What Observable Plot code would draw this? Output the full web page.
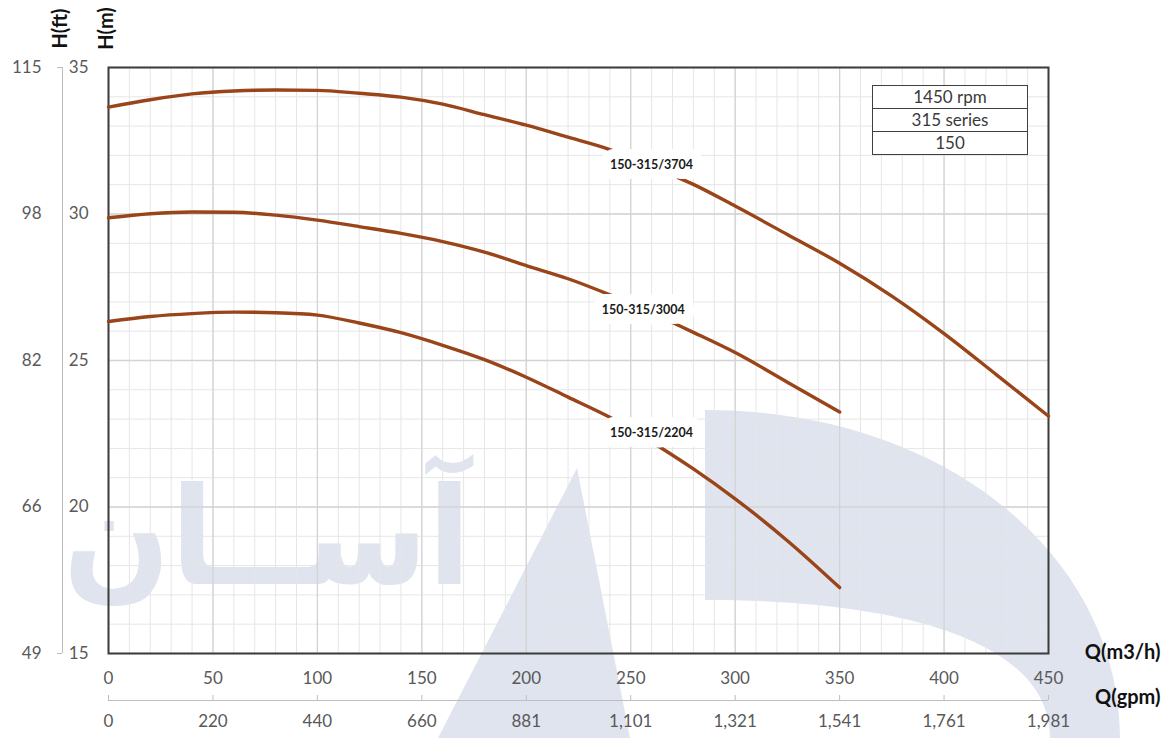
<!DOCTYPE html>
<html>
<head>
<meta charset="utf-8">
<script src="https://cdn.jsdelivr.net/npm/d3@7"></script>
<script src="https://cdn.jsdelivr.net/npm/@observablehq/plot@0.6"></script>
<style>
  html, body { margin: 0; padding: 0; background: #fff; }
  #wrap { position: relative; width: 1163px; height: 738px; overflow: hidden; background: #fff; }
  #wm { position: absolute; left: 0; top: 0; }
  #wrap > svg.chart { position: absolute; left: 0; top: 0; }
  #legend { position: absolute; left: 872px; top: 85px; width: 156px; border-collapse: collapse;
    font-family: Lato, "Open Sans", sans-serif; font-size: 17px; color: #3a3a3a; background: #fff; }
  #legend td { border: 1.5px solid #404040; text-align: center; height: 22px; padding: 0; line-height: 22px; }
</style>
</head>
<body>
<div id="wrap">
  <svg id="wm" width="1163" height="738">
    <g fill="#dfe4ee">
      <text x="267" y="584" text-anchor="middle" direction="rtl" textLength="408" lengthAdjust="spacingAndGlyphs"
        font-family="DejaVu Sans" font-weight="bold" font-size="136">آســان</text>
      <path d="M577,468 L438,738 L630,738 Z"/>
      <path d="M705,410 C950,410 1120,560 1120,738 L1050,738 C1050,640 900,600 705,600 Z"/>
    </g>
  </svg>
</div>
<script>
// ---- data ----
const qTicks = [0, 50, 100, 150, 200, 250, 300, 350, 400, 450];
const gpmLabels = ["0", "220", "440", "660", "881", "1,101", "1,321", "1,541", "1,761", "1,981"];
const mTicks = [15, 20, 25, 30, 35];
const ftLabels = ["49", "66", "82", "98", "115"];

const models = ["150-315/3704", "150-315/3004", "150-315/2204"];

const q3704 = [0, 20, 40, 60, 80, 100, 120, 140, 160, 180, 200, 220, 240, 260, 280, 300, 325, 350, 375, 400, 425, 450];
const h3704 = [33.65, 33.90, 34.10, 34.20, 34.23, 34.22, 34.12, 33.99, 33.75, 33.39, 33.03, 32.62, 32.20, 31.62, 31.01, 30.27, 29.30, 28.32, 27.20, 25.92, 24.52, 23.10];

const q3004 = [0, 20, 40, 60, 80, 100, 120, 140, 160, 180, 200, 220, 240, 260, 280, 300, 325, 350];
const h3004 = [29.87, 30.01, 30.07, 30.06, 29.96, 29.79, 29.57, 29.34, 29.06, 28.70, 28.24, 27.79, 27.24, 26.62, 25.96, 25.27, 24.26, 23.24];

const q2204 = [0, 20, 40, 60, 80, 100, 120, 140, 160, 180, 200, 220, 240, 260, 280, 300, 325, 350];
const h2204 = [26.33, 26.50, 26.60, 26.65, 26.63, 26.55, 26.28, 25.95, 25.52, 25.03, 24.43, 23.75, 23.06, 22.22, 21.30, 20.28, 18.85, 17.25];

const labelQ = [260, 256, 260];
const labelH = [31.66, 26.71, 22.54];

const legendRows = ["1450 rpm", "315 series", "150"];

// ---- build tables ----
const curves = [
  ...q3704.map((q, i) => ({model: models[0], q, h: h3704[i]})),
  ...q3004.map((q, i) => ({model: models[1], q, h: h3004[i]})),
  ...q2204.map((q, i) => ({model: models[2], q, h: h2204[i]}))
];
const labels = models.map((m, i) => ({model: m, q: labelQ[i], h: labelH[i]}));
const gpmMap = new Map(qTicks.map((q, i) => [q, gpmLabels[i]]));
const ftMap = new Map(mTicks.map((m, i) => [m, ftLabels[i]]));

const lineColor = "#9a4419";
const tickColor = "#595959";

const chart = Plot.plot({
  className: "chart",
  width: 1163,
  height: 738,
  marginLeft: 108,
  marginRight: 115,
  marginTop: 67,
  marginBottom: 85,
  style: {fontFamily: "Lato, 'Open Sans', sans-serif", fontSize: "17px", color: tickColor, background: "transparent", overflow: "visible"},
  x: {domain: [0, 450]},
  y: {domain: [15, 35]},
  marks: [
    Plot.gridX(d3.range(0, 451, 10), {stroke: "#e6e6e6", strokeOpacity: 1, strokeWidth: 1}),
    Plot.gridY(d3.range(15, 36, 1), {stroke: "#e6e6e6", strokeOpacity: 1, strokeWidth: 1}),
    Plot.gridX(qTicks, {stroke: "#d3d3d3", strokeOpacity: 1, strokeWidth: 1.3}),
    Plot.gridY(mTicks, {stroke: "#d3d3d3", strokeOpacity: 1, strokeWidth: 1.3}),
    Plot.frame({stroke: "#3c3c3c", strokeWidth: 2}),
    // left axes
    Plot.axisY(mTicks, {tickSize: 0, tickPadding: 20, label: null, fill: tickColor, fontSize: 17}),
    Plot.axisY(mTicks, {tickSize: 0, tickPadding: 67, label: null, fill: tickColor, fontSize: 17, tickFormat: d => ftMap.get(d)}),
    Plot.ruleX([0], {y1: 15, y2: 35, dx: -46, stroke: "#bdbdbd"}),
    Plot.axisY([15, 35], {tickSize: 5, dx: -46, label: null, stroke: "#bdbdbd", tickFormat: () => ""}),
    // bottom axes
    Plot.axisX(qTicks, {tickSize: 0, tickPadding: 18, label: null, fill: tickColor, fontSize: 17}),
    Plot.ruleY([15], {x1: 0, x2: 450, dy: 47, stroke: "#bdbdbd"}),
    Plot.axisX(qTicks, {tickSize: 5, dy: 42, label: null, stroke: "#bdbdbd", tickFormat: () => ""}),
    Plot.axisX(qTicks, {tickSize: 0, tickPadding: 61, label: null, fill: tickColor, fontSize: 17, tickFormat: d => gpmMap.get(d)}),
    // axis titles
    Plot.text(["Q(m3/h)"], {frameAnchor: "bottom-right", textAnchor: "end", dx: 112, dy: 5, fontWeight: "bold", fontSize: 20, fill: "#111"}),
    Plot.text(["Q(gpm)"], {frameAnchor: "bottom-right", textAnchor: "end", dx: 112, dy: 50, fontWeight: "bold", fontSize: 20, fill: "#111"}),
    Plot.text(["H(ft)"], {frameAnchor: "top-left", textAnchor: "middle", dx: -56, dy: -39, rotate: -90, fontWeight: "bold", fontSize: 20, fill: "#111"}),
    Plot.text(["H(m)"], {frameAnchor: "top-left", textAnchor: "middle", dx: -10, dy: -39, rotate: -90, fontWeight: "bold", fontSize: 20, fill: "#111"}),
    // curves
    Plot.line(curves, {x: "q", y: "h", z: "model", stroke: lineColor, strokeWidth: 3.4, curve: "monotone-x"}),
    Plot.text(labels, {x: "q", y: "h", text: "model", fontWeight: "bold", fontSize: 12.5, fill: "#1a1a1a",
      stroke: "white", strokeWidth: 20, strokeLinejoin: "round"})
  ]
});

const wrap = document.getElementById("wrap");
wrap.appendChild(chart);
const table = document.createElement("table");
table.id = "legend";
for (const r of legendRows) {
  const tr = document.createElement("tr");
  const td = document.createElement("td");
  td.textContent = r;
  tr.appendChild(td);
  table.appendChild(tr);
}
wrap.appendChild(table);
</script>
</body>
</html>
